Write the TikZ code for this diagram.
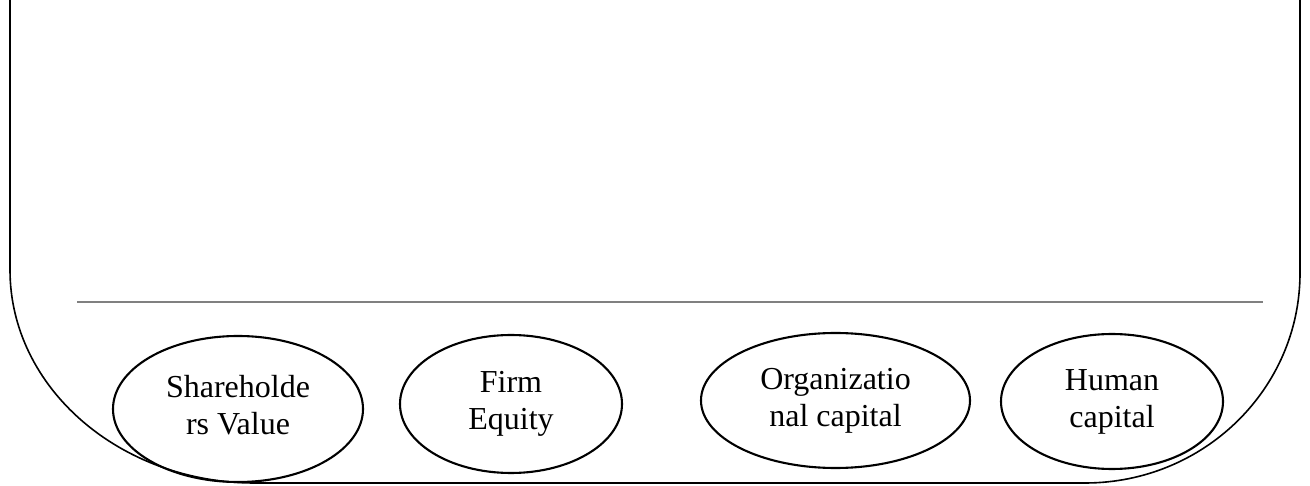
\documentclass[tikz,border=0pt]{standalone}
\usepackage{fontspec}
\setmainfont{Liberation Serif}
\usetikzlibrary{shapes.geometric}
\begin{document}
\begin{tikzpicture}[x=1pt,y=1pt,
  bubble/.style={ellipse,draw=black,line width=2.1pt,inner sep=0pt,
    align=center,font={\fontsize{32}{37}\selectfont}},
  frame/.style={draw=black,line width=1.6pt},
  divider/.style={draw=black!50,line width=2pt}]
\useasboundingbox (0,0) rectangle (1310,485);
% open frame with rounded lower corners
\coordinate (tl) at (10,485);
\coordinate (tr) at (1300,485);
\draw[frame] (tl) -- (10,215) arc[start angle=180,end angle=270,x radius=245pt,y radius=213pt]
  -- (1085,2) arc[start angle=270,end angle=360,x radius=215pt,y radius=210pt] -- (tr);
% divider
\coordinate (dl) at (77,182.5);
\coordinate (dr) at (1263,182.5);
\draw[divider] (dl) -- (dr);
% ellipses
\node[bubble,minimum width=250pt,minimum height=146pt] (sv) at (238,76)
  {\strut Shareholde\\\strut rs Value};
\node[bubble,minimum width=222pt,minimum height=138pt] (fe) at (511,81)
  {\strut Firm\\\strut Equity};
\node[bubble,minimum width=269pt,minimum height=135pt] (oc) at (835.5,84.5)
  {\strut Organizatio\\\strut nal capital};
\node[bubble,minimum width=222pt,minimum height=135pt] (hc) at (1112,83.5)
  {\strut Human\\\strut capital};
\end{tikzpicture}
\end{document}
